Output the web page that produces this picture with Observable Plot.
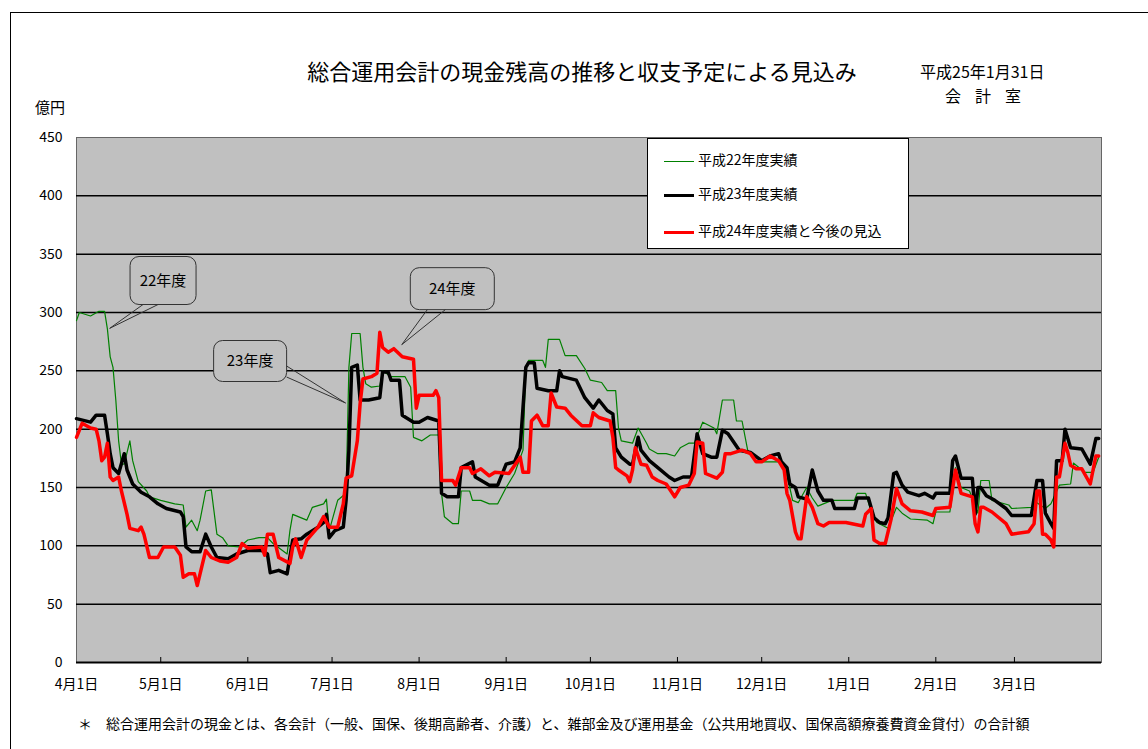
<!DOCTYPE html>
<html><head><meta charset="utf-8">
<script src="https://cdn.jsdelivr.net/npm/d3@7"></script>
<script src="https://cdn.jsdelivr.net/npm/@observablehq/plot@0.6"></script>
<style>
body{margin:0;background:#fff;font-family:"Noto Sans CJK JP","Noto Sans",sans-serif;color:#000;}
#wrap{position:relative;width:1148px;height:749px;overflow:hidden;background:#fff;}
#border{position:absolute;left:10px;top:12px;width:1200px;height:800px;border-top:1px solid #000;border-left:1px solid #000;}
#chart{position:absolute;left:0;top:0;}
.t{position:absolute;line-height:1;white-space:nowrap;}
#legend{position:absolute;left:647px;top:138px;width:260px;height:109px;border:1px solid #000;background:#fff;}
.row{position:absolute;left:16px;height:16px;line-height:16px;font-size:14px;white-space:nowrap;}
.sw{display:inline-block;width:30px;vertical-align:middle;margin-right:4px;}
</style></head>
<body><div id="wrap">
<div id="border"></div>
<div id="chart"></div>
<div class="t" id="title" style="left:0;width:1164px;text-align:center;top:59px;font-size:22px;"></div>
<div class="t" id="date" style="left:920px;top:63px;font-size:16px;"></div>
<div class="t" id="office" style="left:945px;top:87px;font-size:16px;letter-spacing:14px;"></div>
<div class="t" id="unit" style="left:35px;top:99px;font-size:15px;"></div>
<div class="t" id="note" style="left:78px;top:716px;font-size:14px;"></div>
<div id="legend"></div>
</div>
<script>
const titleText = "総合運用会計の現金残高の推移と収支予定による見込み";
const dateText = "平成25年1月31日";
const officeText = "会計室";
const unitText = "億円";
const noteText = "＊　総合運用会計の現金とは、各会計（一般、国保、後期高齢者、介護）と、雑部金及び運用基金（公共用地買収、国保高額療養費資金貸付）の合計額";
const seriesNames = ["平成22年度実績", "平成23年度実績", "平成24年度実績と今後の見込"];
const monthTicks = ["04-01","05-01","06-01","07-01","08-01","09-01","10-01","11-01","12-01","01-01","02-01","03-01"];
const yTicks = [0,50,100,150,200,250,300,350,400,450];

const h22 = [["04-01",293],["04-02",300],["04-06",297],["04-09",301],["04-11",301],["04-12",286],["04-13",262],["04-14",253],["04-15",225],["04-16",190],["04-17",170],["04-18",170],["04-20",190],["04-21",173],["04-23",155],["04-26",147],["04-27",142],["05-01",139],["05-06",136],["05-09",135],["05-10",116],["05-12",122],["05-14",113],["05-15",122],["05-17",147],["05-19",148],["05-21",110],["05-23",107],["05-25",100],["05-29",99],["06-01",105],["06-05",107],["06-08",107],["06-10",102],["06-15",93],["06-16",113],["06-17",127],["06-22",122],["06-24",133],["06-28",136],["06-29",140],["06-30",113],["07-03",139],["07-06",145],["07-07",253],["07-08",282],["07-11",282],["07-12",253],["07-13",239],["07-15",236],["07-18",237],["07-19",250],["07-22",245],["07-27",245],["07-29",236],["07-30",193],["08-02",190],["08-05",195],["08-08",195],["08-09",145],["08-10",125],["08-13",119],["08-15",119],["08-16",147],["08-19",147],["08-20",139],["08-23",139],["08-26",136],["08-29",136],["09-01",150],["09-04",162],["09-07",182],["09-08",253],["09-09",259],["09-14",259],["09-15",253],["09-16",277],["09-20",277],["09-22",263],["09-26",263],["09-29",252],["10-01",242],["10-05",240],["10-07",233],["10-10",233],["10-11",201],["10-12",190],["10-16",188],["10-18",201],["10-21",188],["10-22",183],["10-25",179],["10-28",179],["10-31",177],["11-02",184],["11-05",188],["11-07",188],["11-10",206],["11-14",201],["11-15",196],["11-17",225],["11-21",225],["11-22",207],["11-24",207],["11-26",182],["11-29",172],["12-07",172],["12-09",169],["12-11",150],["12-12",139],["12-14",137],["12-17",150],["12-19",141],["12-21",134],["12-26",139],["01-03",139],["01-04",145],["01-07",145],["01-09",129],["01-11",120],["01-15",115],["01-18",133],["01-20",128],["01-23",123],["01-29",122],["01-31",119],["02-01",129],["02-06",129],["02-07",145],["02-08",167],["02-10",150],["02-13",147],["02-16",128],["02-17",156],["02-20",156],["02-21",139],["02-27",135],["02-28",132],["03-07",133],["03-09",137],["03-12",132],["03-14",136],["03-17",152],["03-21",153],["03-22",171],["03-26",163],["03-29",163],["03-31",176]];

const h23 = [["04-01",209],["04-06",206],["04-08",212],["04-11",212],["04-12",196],["04-13",179],["04-14",167],["04-16",162],["04-18",179],["04-19",165],["04-21",153],["04-24",146],["04-27",142],["04-30",136],["05-03",132],["05-08",129],["05-09",125],["05-10",99],["05-12",95],["05-15",95],["05-17",110],["05-19",99],["05-21",90],["05-25",89],["05-28",93],["06-01",96],["06-06",96],["06-08",93],["06-09",77],["06-12",79],["06-15",76],["06-17",105],["06-20",106],["06-22",110],["06-26",116],["06-28",120],["06-29",127],["06-30",107],["07-02",113],["07-05",116],["07-06",139],["07-07",182],["07-08",253],["07-10",255],["07-11",225],["07-14",225],["07-18",227],["07-19",249],["07-21",249],["07-22",242],["07-25",242],["07-26",212],["07-30",206],["08-01",206],["08-04",210],["08-08",207],["08-09",145],["08-11",142],["08-15",142],["08-16",167],["08-20",172],["08-21",159],["08-26",152],["08-29",152],["09-01",170],["09-04",172],["09-06",184],["09-08",253],["09-09",257],["09-11",257],["09-12",235],["09-16",233],["09-19",233],["09-20",250],["09-21",245],["09-26",242],["09-29",227],["10-02",218],["10-04",225],["10-07",216],["10-09",213],["10-10",184],["10-12",176],["10-15",170],["10-16",170],["10-18",193],["10-19",182],["10-22",173],["10-25",167],["10-29",159],["10-31",156],["11-03",159],["11-06",159],["11-08",196],["11-10",179],["11-13",176],["11-15",176],["11-17",199],["11-19",196],["11-23",182],["11-27",180],["12-01",173],["12-04",177],["12-07",179],["12-08",172],["12-10",167],["12-11",153],["12-13",150],["12-14",142],["12-17",140],["12-19",165],["12-21",147],["12-23",139],["12-26",139],["12-27",132],["01-03",132],["01-04",141],["01-08",141],["01-10",124],["01-12",120],["01-14",119],["01-15",124],["01-17",162],["01-18",163],["01-20",152],["01-22",146],["01-26",143],["01-28",145],["01-31",141],["02-01",145],["02-06",145],["02-07",173],["02-08",177],["02-10",158],["02-14",158],["02-15",127],["02-16",150],["02-17",150],["02-19",143],["02-22",139],["02-26",132],["02-28",126],["03-07",126],["03-09",156],["03-11",156],["03-12",128],["03-14",119],["03-15",115],["03-16",173],["03-18",173],["03-19",200],["03-20",192],["03-21",184],["03-25",183],["03-28",170],["03-30",192],["03-31",192]];

const h24 = [["04-01",193],["04-03",205],["04-06",201],["04-08",200],["04-09",190],["04-10",173],["04-11",176],["04-12",188],["04-13",159],["04-14",156],["04-16",159],["04-17",147],["04-19",127],["04-20",115],["04-23",113],["04-24",116],["04-25",110],["04-27",90],["04-30",90],["05-02",99],["05-06",99],["05-08",92],["05-09",73],["05-11",76],["05-13",76],["05-14",66],["05-15",76],["05-17",96],["05-19",90],["05-22",87],["05-25",86],["05-28",90],["05-30",102],["06-01",98],["06-06",99],["06-07",92],["06-08",110],["06-10",110],["06-12",90],["06-16",85],["06-17",99],["06-18",106],["06-20",90],["06-22",105],["06-26",116],["06-28",125],["06-30",116],["07-03",116],["07-05",136],["07-06",158],["07-08",160],["07-10",190],["07-11",222],["07-12",243],["07-15",245],["07-17",248],["07-18",283],["07-19",270],["07-21",266],["07-23",269],["07-26",262],["07-30",260],["07-31",218],["08-01",229],["08-06",229],["08-07",233],["08-08",227],["08-09",156],["08-13",156],["08-14",152],["08-16",167],["08-19",167],["08-20",162],["08-23",166],["08-26",160],["08-28",163],["09-02",162],["09-06",176],["09-07",163],["09-09",163],["09-10",207],["09-12",212],["09-14",203],["09-16",203],["09-17",231],["09-19",219],["09-22",218],["09-24",212],["09-28",203],["10-01",203],["10-02",214],["10-04",210],["10-08",207],["10-09",193],["10-10",167],["10-11",165],["10-14",160],["10-15",155],["10-16",165],["10-17",184],["10-19",170],["10-21",169],["10-23",159],["10-25",156],["10-28",153],["10-31",142],["11-02",150],["11-05",152],["11-07",162],["11-08",189],["11-10",188],["11-11",162],["11-15",158],["11-17",163],["11-18",179],["11-20",179],["11-24",182],["11-27",179],["11-29",172],["12-01",172],["12-04",177],["12-07",173],["12-09",165],["12-10",145],["12-11",139],["12-13",112],["12-14",106],["12-15",106],["12-17",142],["12-19",133],["12-21",119],["12-23",117],["12-25",120],["12-31",120],["01-06",117],["01-07",127],["01-09",132],["01-10",105],["01-12",102],["01-14",102],["01-16",122],["01-18",149],["01-20",136],["01-23",130],["01-27",129],["01-31",126],["02-01",132],["02-06",133],["02-08",165],["02-10",145],["02-14",142],["02-15",119],["02-16",112],["02-17",133],["02-18",133],["02-21",129],["02-26",119],["02-28",110],["03-06",112],["03-08",119],["03-09",147],["03-10",147],["03-11",110],["03-12",110],["03-14",105],["03-15",99],["03-16",159],["03-17",159],["03-19",188],["03-20",180],["03-21",169],["03-23",166],["03-25",166],["03-28",153],["03-30",177],["03-31",177]];

// callouts: label, label centre (date, value), pointer tip (date, value)
const callouts = [
  {label:"22年度", at:"05-02", v:327, tip:"04-13", tv:286, w:66, h:48, base:"bottom", b1:-20, b2:-5},
  {label:"23年度", at:"06-02", v:258, tip:"07-06", tv:222, w:73, h:41, base:"right", b1:5, b2:16},
  {label:"24年度", at:"08-13", v:320, tip:"07-26", tv:272, w:84, h:42, base:"bottom", b1:-25, b2:-7}
];

function toDate(md){const [m,d]=md.split("-").map(Number);return new Date(Date.UTC(m>=4?2012:2013,m-1,d));}
const rows = (arr)=>arr.map(([md,v])=>({date:toDate(md),v}));
const d22=rows(h22), d23=rows(h23), d24=rows(h24);
const xTicks = monthTicks.map(toDate);
const FONT = '"Noto Sans CJK JP","Noto Sans",sans-serif';

const plot = Plot.plot({
  width:1148, height:700,
  marginLeft:76, marginRight:47, marginTop:137, marginBottom:38,
  style:{fontFamily:FONT, fontSize:"14px", background:"transparent", color:"#000"},
  x:{type:"utc", domain:[toDate("04-01"), new Date(Date.UTC(2013,3,1))], ticks:xTicks, tickSize:0, tickPadding:17,
     tickFormat:d=>`${d.getUTCMonth()+1}月${d.getUTCDate()}日`, label:null},
  y:{domain:[0,450], ticks:yTicks, tickSize:0, tickPadding:14, label:null},
  marks:[
    Plot.frame({fill:"#c0c0c0", stroke:"#666"}),
    Plot.ruleY(yTicks.filter(v=>v>0 && v<450), {stroke:"#000", strokeWidth:1.5}),
    Plot.ruleY([0], {stroke:"#000", strokeWidth:2}),
    Plot.tickX(xTicks.slice(1), {x:d=>d, stroke:"#000", strokeWidth:1, insetTop:520}),
    Plot.line(d22, {x:"date", y:"v", stroke:"#008000", strokeWidth:1.2}),
    Plot.line(d23, {x:"date", y:"v", stroke:"#000", strokeWidth:3.5, strokeLinejoin:"round"}),
    Plot.line(d24, {x:"date", y:"v", stroke:"#ff0000", strokeWidth:3.5, strokeLinejoin:"round"})
  ]
});
document.getElementById("chart").appendChild(plot);

// callouts positioned through the plot scales
const xs = plot.scale("x"), ys = plot.scale("y");
const svg = d3.select(plot);
const g = svg.append("g");
for (const c of callouts){
  const cx = xs.apply(toDate(c.at)), cy = ys.apply(c.v);
  const tx = xs.apply(toDate(c.tip)), ty = ys.apply(c.tv);
  g.append("rect").attr("x",cx-c.w/2).attr("y",cy-c.h/2).attr("width",c.w).attr("height",c.h)
    .attr("rx",9).attr("fill","#c0c0c0").attr("stroke","#333").attr("stroke-width",1);
  let p1,p2;
  if (c.base==="bottom"){p1=[cx+c.b1,cy+c.h/2];p2=[cx+c.b2,cy+c.h/2];}
  else {p1=[cx+c.w/2,cy+c.b1];p2=[cx+c.w/2,cy+c.b2];}
  g.append("path").attr("d",`M${p1}L${tx},${ty}L${p2}`).attr("fill","none").attr("stroke","#333").attr("stroke-width",1);
  g.append("text").attr("x",cx).attr("y",cy).attr("dy","0.35em").attr("text-anchor","middle")
    .attr("font-size",15).attr("font-family",FONT).text(c.label);
}

document.getElementById("title").textContent = titleText;
document.getElementById("date").textContent = dateText;
document.getElementById("office").textContent = officeText;
document.getElementById("unit").textContent = unitText;
document.getElementById("note").textContent = noteText;

const legendStyles = [{c:"#008000",w:1},{c:"#000",w:3},{c:"#ff0000",w:3}];
const legendTops = [12, 46, 83];
const lg = document.getElementById("legend");
seriesNames.forEach((n,i)=>{
  const r=document.createElement("div"); r.className="row"; r.style.top=legendTops[i]+"px";
  const s=document.createElement("span"); s.className="sw"; s.style.borderTop=`${legendStyles[i].w}px solid ${legendStyles[i].c}`;
  r.appendChild(s); r.appendChild(document.createTextNode(n)); lg.appendChild(r);
});
</script>
</body></html>
